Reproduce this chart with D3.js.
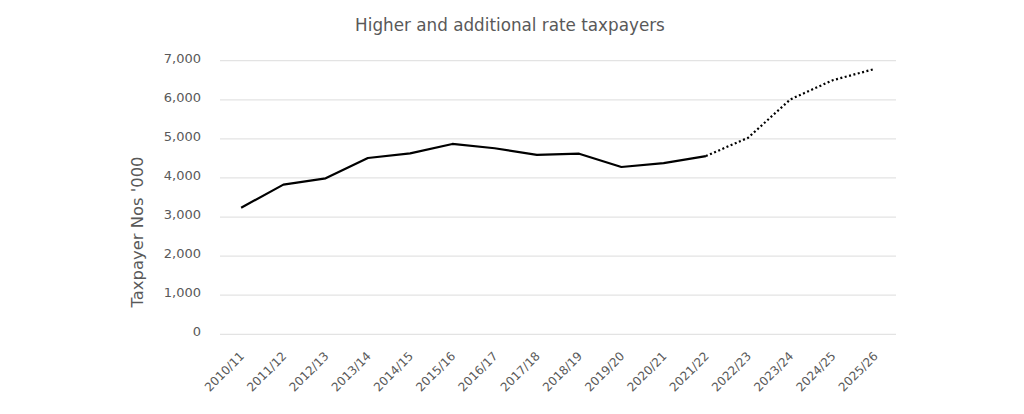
<!DOCTYPE html>
<html><head><meta charset="utf-8">
<script src="https://cdn.jsdelivr.net/npm/d3@7"></script>
<style>
body{margin:0;background:#fff;}
svg{display:block;font-family:"DejaVu Sans",sans-serif;}
</style></head>
<body><svg id="c" width="1024" height="414"></svg>
<script>
const categories = ["2010/11","2011/12","2012/13","2013/14","2014/15","2015/16","2016/17","2017/18","2018/19","2019/20","2020/21","2021/22","2022/23","2023/24","2024/25","2025/26"];
const actualValues = [3240,3830,3990,4510,4630,4870,4760,4590,4620,4280,4380,4560,null,null,null,null];
const forecastValues = [null,null,null,null,null,null,null,null,null,null,null,4560,5030,6010,6500,6790];
const yTicks = [0,1000,2000,3000,4000,5000,6000,7000];
const title = "Higher and additional rate taxpayers";
const yLabel = "Taxpayer Nos '000";

const svg = d3.select("#c");
const x = d3.scaleBand().domain(categories).range([220, 896]);
const y = d3.scaleLinear().domain([0,7000]).range([334.3, 60.7]);
const cx = d => x(d) + x.bandwidth()/2;
const txt = "#595959";
const ff = "'DejaVu Sans',sans-serif";

// grid
svg.append("g").selectAll("line").data(yTicks).join("line")
  .attr("x1",220).attr("x2",896)
  .attr("y1",d=>y(d)).attr("y2",d=>y(d))
  .attr("stroke","#e3e3e3").attr("stroke-width",1.2);

// y axis labels
const ya = svg.append("g").attr("transform","translate(201,-3)")
  .call(d3.axisLeft(y).tickValues(yTicks).tickSize(0).tickPadding(0).tickFormat(d3.format(",")));
ya.select(".domain").remove();
ya.selectAll("text").attr("fill",txt).style("font-size","13px").style("font-family",ff).attr("dy","0.35em");

// x axis labels
const xa = svg.append("g").attr("transform","translate(0,348)")
  .call(d3.axisBottom(x).tickSize(0).tickPadding(0));
xa.select(".domain").remove();
xa.selectAll("text").attr("fill",txt).style("font-size","12px").style("font-family",ff)
  .attr("text-anchor","end").attr("transform","rotate(-45)").attr("dx","-0.3em").attr("dy","0.75em");

// lines
const line = d3.line().defined(d=>d[1]!=null).x(d=>cx(d[0])).y(d=>y(d[1]));
svg.append("path").datum(categories.map((c,i)=>[c,actualValues[i]]))
  .attr("d",line).attr("fill","none").attr("stroke","#000").attr("stroke-width",2.2).attr("stroke-linejoin","round");
svg.append("path").datum(categories.map((c,i)=>[c,forecastValues[i]]))
  .attr("d",line).attr("fill","none").attr("stroke","#000").attr("stroke-width",2.2)
  .attr("stroke-dasharray","2 2.5");

// title
svg.append("text").attr("x",510).attr("y",31).attr("text-anchor","middle")
  .attr("fill",txt).style("font-size","16.8px").text(title);

// y label
svg.append("text").attr("transform","translate(143,232) rotate(-90)").attr("text-anchor","middle")
  .attr("fill",txt).style("font-size","16.4px").text(yLabel);
</script></body></html>
